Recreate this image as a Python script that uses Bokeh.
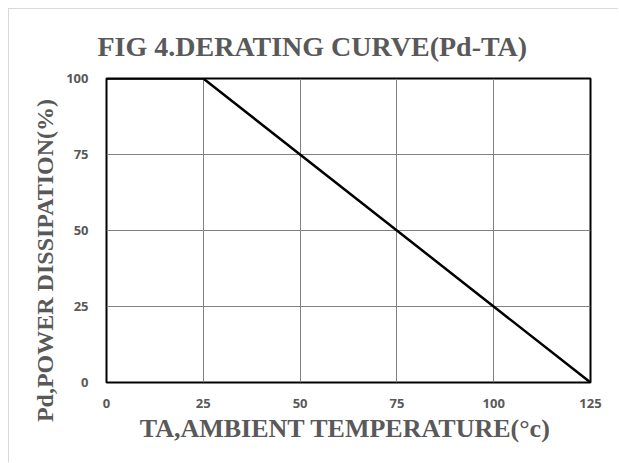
from bokeh.plotting import figure
from bokeh.models import Range1d, FixedTicker
from bokeh.embed import file_html
from bokeh.resources import INLINE

temp = [0, 25, 125]
power = [100, 100, 0]
x_ticks = [0, 25, 50, 75, 100, 125]
y_ticks = [0, 25, 50, 75, 100]

p = figure(width=610, height=454, output_backend="svg", toolbar_location=None,
           x_range=Range1d(0, 125), y_range=Range1d(0, 100),
           min_border_left=97, min_border_right=29, min_border_top=69, min_border_bottom=81)
p.styles = {"margin-top": "8px", "margin-left": "8px",
            "border-top": "1px solid #d9d9d9", "border-left": "1px solid #d9d9d9"}

p.title.text = "FIG 4.DERATING CURVE(Pd-TA)"
p.title.align = "left"
p.title.offset = -9
p.title.standoff = 30
p.title.vertical_align = "top"
p.title.text_font = "Liberation Serif"
p.title.text_font_style = "bold"
p.title.text_font_size = "28px"
p.title.text_color = "#595959"

p.line(temp, power, line_color="black", line_width=2.5)

for ax, ticks in ((p.xaxis, x_ticks), (p.yaxis, y_ticks)):
    ax.ticker = FixedTicker(ticks=ticks)
    ax.axis_line_color = None
    ax.major_tick_line_color = None
    ax.minor_tick_line_color = None
    ax.major_label_text_font = "Open Sans"
    ax.major_label_text_font_style = "bold"
    ax.major_label_text_font_size = "13px"
    ax.major_label_text_color = "#595959"
    ax.axis_label_text_font = "Liberation Serif"
    ax.axis_label_text_font_style = "bold"
    ax.axis_label_text_color = "#595959"

p.xaxis.axis_label = "TA,AMBIENT  TEMPERATURE(°c)"
p.yaxis.axis_label = "Pd,POWER DISSIPATION(%)" + "\u00a0" * 10
p.xaxis.axis_label_text_font_size = "26px"
p.yaxis.axis_label_text_font_size = "24px"
p.xaxis.major_label_standoff = 10
p.yaxis.major_label_standoff = 12
p.xaxis.axis_label_standoff = 3
p.yaxis.axis_label_standoff = 5

p.xgrid.ticker = FixedTicker(ticks=x_ticks)
p.ygrid.ticker = FixedTicker(ticks=y_ticks)
p.grid.grid_line_color = "#808080"
p.grid.grid_line_width = 1
p.grid.grid_line_alpha = 1

p.outline_line_color = "black"
p.outline_line_width = 2
p.background_fill_color = "white"
p.border_fill_color = "white"

open("out.html", "w").write(file_html(p, INLINE))
